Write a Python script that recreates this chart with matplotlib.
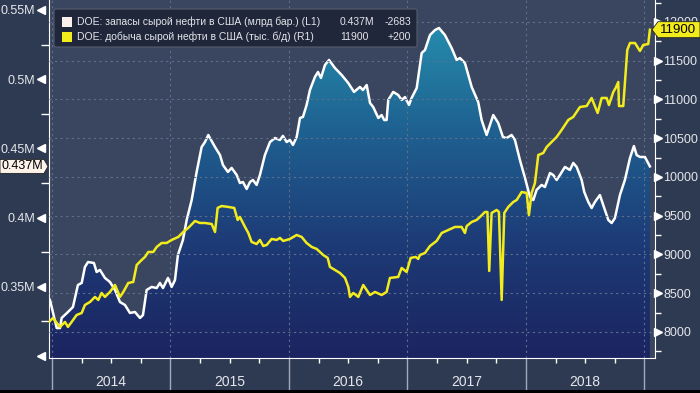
import numpy as np
import matplotlib.pyplot as plt
from matplotlib.colors import LinearSegmentedColormap
from matplotlib.patches import Rectangle, FancyBboxPatch, Polygon
from matplotlib.transforms import blended_transform_factory, IdentityTransform
from matplotlib.ticker import MultipleLocator

plt.rcParams['font.family'] = ['Liberation Sans', 'DejaVu Sans']

# crude stocks (L1), decimal year -> value (M)
stocks_t = [2013.983, 2014.040, 2014.068, 2014.082, 2014.135, 2014.177, 2014.219, 2014.251, 2014.278, 2014.304,
            2014.354, 2014.377, 2014.405, 2014.447, 2014.489, 2014.532, 2014.574, 2014.616, 2014.658, 2014.700,
            2014.743, 2014.768, 2014.799, 2014.841, 2014.884, 2014.911, 2014.937, 2014.979, 2015.010, 2015.038,
            2015.063, 2015.105, 2015.137, 2015.179, 2015.221, 2015.263, 2015.291, 2015.319, 2015.376, 2015.418,
            2015.443, 2015.485, 2015.516, 2015.559, 2015.586, 2015.612, 2015.643, 2015.671, 2015.696, 2015.727,
            2015.755, 2015.797, 2015.840, 2015.882, 2015.924, 2015.949, 2015.981, 2016.008, 2016.034, 2016.065,
            2016.093, 2016.118, 2016.149, 2016.177, 2016.219, 2016.245, 2016.270, 2016.304, 2016.338, 2016.388,
            2016.445, 2016.500, 2016.549, 2016.599, 2016.624, 2016.656, 2016.684, 2016.711, 2016.754, 2016.782,
            2016.804, 2016.824, 2016.838, 2016.880, 2016.922, 2016.951, 2016.979, 2017.013, 2017.035, 2017.078,
            2017.120, 2017.148, 2017.190, 2017.232, 2017.266, 2017.316, 2017.373, 2017.415, 2017.443, 2017.485,
            2017.542, 2017.597, 2017.626, 2017.668, 2017.724, 2017.766, 2017.806, 2017.837, 2017.879, 2017.907,
            2017.949, 2017.992, 2018.034, 2018.062, 2018.090, 2018.132, 2018.160, 2018.203, 2018.230, 2018.259,
            2018.287, 2018.329, 2018.371, 2018.399, 2018.428, 2018.470, 2018.492, 2018.526, 2018.554, 2018.582,
            2018.624, 2018.652, 2018.695, 2018.723, 2018.751, 2018.793, 2018.835, 2018.878, 2018.911, 2018.934,
            2018.962, 2019.004, 2019.046]
stocks_v = [0.3405, 0.3202, 0.3202, 0.3275, 0.3318, 0.3354, 0.3513, 0.3528, 0.3643, 0.3679,
            0.3672, 0.3607, 0.3622, 0.3564, 0.3535, 0.3477, 0.3390, 0.3369, 0.3311, 0.3318,
            0.3275, 0.3296, 0.3477, 0.3499, 0.3491, 0.3528, 0.3491, 0.3564, 0.3499, 0.3549,
            0.3730, 0.3838, 0.3983, 0.4127, 0.4330, 0.4510, 0.4546, 0.4597, 0.4510, 0.4452,
            0.4380, 0.4330, 0.4359, 0.4308, 0.4250, 0.4257, 0.4207, 0.4257, 0.4272, 0.4236,
            0.4308, 0.4452, 0.4546, 0.4575, 0.4561, 0.4590, 0.4546, 0.4561, 0.4525, 0.4582,
            0.4720, 0.4727, 0.4814, 0.4922, 0.5016, 0.5052, 0.5009, 0.5103, 0.5139, 0.5081,
            0.5030, 0.4973, 0.4908, 0.4944, 0.4922, 0.4958, 0.4828, 0.4799, 0.4720, 0.4741,
            0.4705, 0.4705, 0.4850, 0.4908, 0.4886, 0.4850, 0.4871, 0.4814, 0.4864, 0.4936,
            0.5189, 0.5211, 0.5319, 0.5355, 0.5370, 0.5319, 0.5225, 0.5139, 0.5153, 0.5117,
            0.4944, 0.4835, 0.4705, 0.4597, 0.4741, 0.4684, 0.4582, 0.4575, 0.4597, 0.4561,
            0.4416, 0.4286, 0.4149, 0.4127, 0.4200, 0.4236, 0.4221, 0.4322, 0.4308, 0.4272,
            0.4308, 0.4366, 0.4344, 0.4395, 0.4366, 0.4272, 0.4185, 0.4113, 0.4069, 0.4113,
            0.4163, 0.4091, 0.3983, 0.3961, 0.3997, 0.4163, 0.4272, 0.4431, 0.4517, 0.4452,
            0.4438, 0.4438, 0.4370]

# crude production (R1), decimal year -> thousand b/d
prod_t = [2013.975, 2014.008, 2014.040, 2014.068, 2014.110, 2014.135, 2014.166, 2014.208, 2014.251, 2014.278,
          2014.321, 2014.363, 2014.391, 2014.419, 2014.447, 2014.489, 2014.532, 2014.574, 2014.602, 2014.644,
          2014.686, 2014.715, 2014.757, 2014.785, 2014.813, 2014.855, 2014.884, 2014.926, 2014.968, 2015.010,
          2015.066, 2015.108, 2015.150, 2015.207, 2015.249, 2015.291, 2015.348, 2015.376, 2015.398, 2015.432,
          2015.488, 2015.538, 2015.567, 2015.586, 2015.629, 2015.657, 2015.685, 2015.727, 2015.755, 2015.783,
          2015.812, 2015.854, 2015.896, 2015.924, 2015.952, 2016.008, 2016.065, 2016.107, 2016.149, 2016.192,
          2016.234, 2016.289, 2016.327, 2016.346, 2016.388, 2016.430, 2016.473, 2016.501, 2016.515, 2016.543,
          2016.585, 2016.627, 2016.684, 2016.726, 2016.782, 2016.824, 2016.852, 2016.922, 2016.951, 2016.993,
          2017.027, 2017.069, 2017.091, 2017.105, 2017.148, 2017.190, 2017.246, 2017.289, 2017.344, 2017.401,
          2017.457, 2017.485, 2017.500, 2017.542, 2017.584, 2017.612, 2017.654, 2017.675, 2017.690, 2017.710,
          2017.753, 2017.772, 2017.795, 2017.817, 2017.851, 2017.893, 2017.922, 2017.964, 2018.006, 2018.025,
          2018.048, 2018.076, 2018.104, 2018.146, 2018.175, 2018.217, 2018.259, 2018.301, 2018.357, 2018.399,
          2018.456, 2018.512, 2018.554, 2018.605, 2018.639, 2018.681, 2018.700, 2018.737, 2018.757, 2018.779,
          2018.785, 2018.821, 2018.855, 2018.878, 2018.920, 2018.962, 2018.990, 2019.032, 2019.046]
prod_v = [8129, 8181, 8116, 8065, 8129, 8065, 8129, 8219, 8245, 8348,
          8387, 8452, 8413, 8503, 8452, 8516, 8606, 8452, 8516, 8632,
          8645, 8864, 8929, 8968, 9032, 9032, 9097, 9148, 9148, 9187,
          9226, 9290, 9342, 9432, 9406, 9406, 9393, 9290, 9600, 9625,
          9613, 9600, 9445, 9484, 9355, 9277, 9161, 9135, 9187, 9109,
          9122, 9200, 9187, 9213, 9174, 9200, 9251, 9226, 9148, 9097,
          9071, 8993, 8955, 8839, 8800, 8761, 8697, 8581, 8452, 8503,
          8452, 8606, 8477, 8516, 8477, 8516, 8697, 8710, 8826, 8774,
          8955, 8968, 8942, 8993, 9019, 9109, 9174, 9277, 9316, 9355,
          9355, 9277, 9367, 9419, 9445, 9484, 9548, 9548, 8787, 9535,
          9574, 9548, 8413, 9535, 9613, 9677, 9703, 9806, 9793, 9509,
          9793, 9922, 10283, 10309, 10387, 10451, 10516, 10606, 10735, 10774,
          10903, 10915, 11019, 10825, 11019, 11019, 10928, 11096, 11148, 11225,
          10915, 10915, 11638, 11728, 11728, 11625, 11703, 11715, 11900]

years = [2014, 2015, 2016, 2017, 2018]
left_ticks = [0.30, 0.35, 0.40, 0.45, 0.50, 0.55]
left_labels = ['', '0.35M', '0.4M', '0.45M', '0.5M', '0.55M']
right_ticks = [8000, 8500, 9000, 9500, 10000, 10500, 11000, 11500, 12000]

BG = '#2e3a52'
AX_BG = '#3a4660'
TXT = '#e4e6ea'
YEL = '#f3ec1c'

W, H = 700, 393
fig = plt.figure(figsize=(7, 3.93), dpi=100, facecolor=BG)
ax = fig.add_axes([49 / W, 35 / H, 606 / W, 358 / H])
ax.set_facecolor(AX_BG)
x0, x1 = 2013.975, 2019.089
y0, y1 = 0.29857, 0.55722

# gradient fill under stocks line
cmap = LinearSegmentedColormap.from_list('g', ['#1b2460', '#1d3c78', '#1f6593', '#2797b4'])
grad = np.linspace(0, 1, 256).reshape(-1, 1)
im = ax.imshow(grad, extent=[x0, x1, y0, y1], origin='lower', cmap=cmap, aspect='auto', zorder=0)
poly = ax.fill_between(stocks_t, stocks_v, y0, facecolor='none', edgecolor='none')
im.set_clip_path(poly.get_paths()[0], ax.transData)
ax.plot(stocks_t, stocks_v, color='white', lw=1.8, zorder=3)
ax.set_xlim(x0, x1)
ax.set_ylim(y0, y1)

ax2 = ax.twinx()
ax2.set_ylim(7664, 12283)
ax2.plot(prod_t, prod_v, color=YEL, lw=1.8, zorder=3)

# grids
ax.set_xticks(years + [2019])
ax.set_xticklabels([])
ax.xaxis.set_minor_locator(MultipleLocator(0.25))
ax.grid(axis='x', which='major', ls=(0, (2, 3)), color='#5f6f8e', lw=0.8)
ax2.set_yticks(right_ticks)
ax2.grid(axis='y', which='major', ls=(0, (2, 3)), color='#5f6f8e', lw=0.8)

for s in ['top', 'right']:
    ax.spines[s].set_visible(False)
for s in ['top', 'left', 'bottom']:
    ax2.spines[s].set_visible(False)
ax.spines['left'].set_color('white')
ax.spines['bottom'].set_color('white')
ax2.spines['right'].set_color('white')

ax.tick_params(axis='x', which='major', length=25, width=1, color='#a2aabb')
ax.tick_params(axis='x', which='minor', length=3.5, width=1, color='white')
for yr in years:
    ax.text(yr + 0.5, -0.068, str(yr), transform=blended_transform_factory(ax.transData, ax.transAxes),
            ha='center', va='center', color=TXT, fontsize=10)

# left axis
ax.set_yticks(left_ticks)
ax.set_yticklabels(left_labels)
ax.yaxis.set_minor_locator(MultipleLocator(0.025))
ax.tick_params(axis='y', which='major', length=0, pad=10, labelcolor=TXT, labelsize=9)
ax.tick_params(axis='y', which='minor', length=6, width=1, color='white')
tl = blended_transform_factory(ax.transAxes, ax.transData)
ax.plot([-0.0135] * len(left_ticks), left_ticks, ls='none', marker='<', ms=6, color='white',
        transform=tl, clip_on=False)

# right axis
ax2.set_yticklabels([str(t) for t in right_ticks])
ax2.yaxis.set_minor_locator(MultipleLocator(250))
ax2.tick_params(axis='y', which='major', length=0, pad=6, labelcolor=TXT, labelsize=9)
ax2.tick_params(axis='y', which='minor', length=4, width=1, color='white')
tr = blended_transform_factory(ax2.transAxes, ax2.transData)
ax2.plot([1.0055] * len(right_ticks), right_ticks, ls='none', marker='>', ms=6, color='white',
         transform=tr, clip_on=False)

# last value tags
yl = ax.transData.transform((x0, stocks_v[-1]))[1]
ax.add_artist(Polygon([(0, yl - 7), (44, yl - 7), (48, yl), (44, yl + 7), (0, yl + 7)], closed=True,
                      facecolor='#fdf3ea', edgecolor='#222222', lw=0.6, transform=IdentityTransform(),
                      clip_on=False, zorder=10))
ax.text(22, yl, '0.437M', transform=IdentityTransform(), ha='center', va='center', fontsize=9,
        color='black', zorder=11, clip_on=False)
yr_ = ax2.transData.transform((x0, prod_v[-1]))[1]
ax2.add_artist(Polygon([(700, yr_ - 8), (658, yr_ - 8), (652, yr_), (658, yr_ + 8), (700, yr_ + 8)], closed=True,
                       facecolor=YEL, edgecolor='#222222', lw=0.6, transform=IdentityTransform(),
                       clip_on=False, zorder=10))
ax2.text(678, yr_, '11900', transform=IdentityTransform(), ha='center', va='center', fontsize=9.5,
         color='black', zorder=11, clip_on=False)

# legend box
def fx(x):
    return x / W

def fy(y):
    return 1 - y / H

fig.add_artist(FancyBboxPatch((fx(54), fy(47)), fx(417) - fx(54), fy(9) - fy(47),
                              boxstyle='round,pad=0,rounding_size=0.004', transform=fig.transFigure,
                              facecolor='#20273a', edgecolor='#555c6c', lw=0.8, zorder=20))
rows = [('DOE: запасы сырой нефти в США (млрд бар.) (L1)', '0.437M', '-2683', '#fbf1ec', 22),
        ('DOE: добыча сырой нефти в США (тыс. б/д) (R1)', '11900', '+200', YEL, 36.5)]
for name, val, chg, col, y in rows:
    fig.add_artist(Rectangle((fx(62), fy(y + 5)), fx(10), 10 / H, transform=fig.transFigure,
                             facecolor=col, edgecolor='none', zorder=21))
    fig.text(fx(77), fy(y), name, ha='left', va='center', color=TXT, fontsize=7.5, zorder=22)
    fig.text(fx(340), fy(y), val, ha='left', va='center', color=TXT, fontsize=7.5, zorder=22)
    fig.text(fx(411), fy(y), chg, ha='right', va='center', color=TXT, fontsize=7.5, zorder=22)

fig.add_artist(Rectangle((0, 0), 1, 3 / H, transform=fig.transFigure, facecolor='black', edgecolor='none'))

fig.savefig('out.png', dpi=100, facecolor=BG)
